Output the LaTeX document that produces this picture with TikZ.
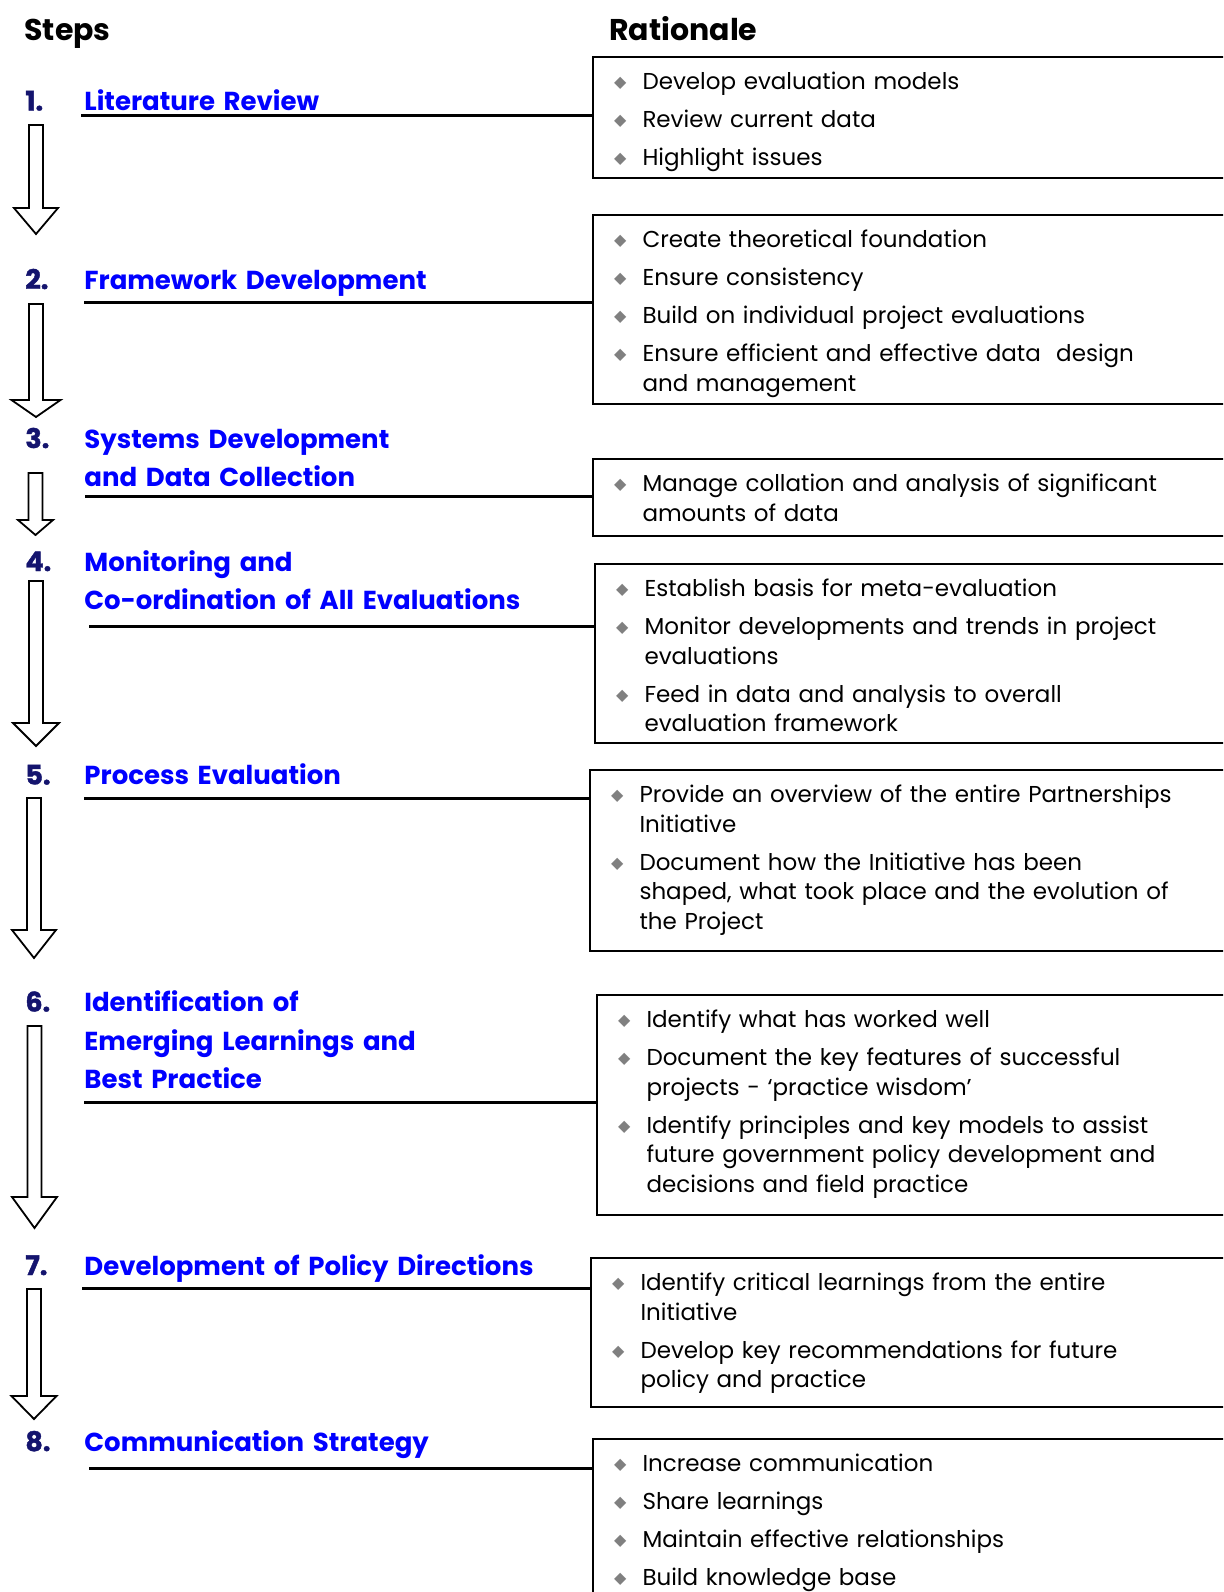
\documentclass[tikz,border=0pt]{standalone}
\usepackage{fontspec}
\setmainfont{Poppins}
\newfontfamily\numfont{Poppins}[FakeBold=1.5]
\newfontfamily\symfont{DejaVu Sans}
\usepackage{xcolor}

\definecolor{titleblue}{RGB}{0,0,255}
\definecolor{numnavy}{RGB}{20,20,110}
\definecolor{bulletgray}{RGB}{128,128,128}

\newcommand\rbullet{\makebox[13.75pt][l]{\hspace{-0.4pt}\raisebox{1pt}{\textcolor{bulletgray}{\symfont\fontsize{8pt}{8pt}\selectfont ◆}}}}
\newcommand\ritem[1]{\hangindent=13.75pt\hangafter=1\rbullet#1\par}

\tikzset{
  head/.style={anchor=base west, inner sep=0pt, font=\fontsize{15pt}{18pt}\selectfont\bfseries},
  num/.style={anchor=base west, inner sep=0pt, text=numnavy, font=\numfont\fontsize{13.5pt}{14pt}\selectfont\bfseries},
  stitle/.style={anchor=base west, inner sep=0pt, text=titleblue, text width=270pt, align=left,
    font=\fontsize{13pt}{19.25pt}\selectfont\bfseries},
  rbox/.style={draw, line width=1pt, anchor=north west, inner xsep=11pt, inner ysep=0pt,
    text width=310pt, align=left, text height=16.25pt,
    font=\fontsize{11.5pt}{14.75pt}\selectfont\setlength{\parskip}{4.25pt}},
  uline/.style={line width=1.5pt},
  flow/.style={line width=0.9pt, line join=miter}
}

\begin{document}
\begin{tikzpicture}[x=0.5pt, y=-0.5pt]
\useasboundingbox (0,0) rectangle (1223,1592);
\clip (0,0) rectangle (1223,1592);

\node[head] (steps) at (24,40) {Steps};
\node[head] (rat) at (609,40.6) {Rationale};

% step numbers and titles
\node[num] (n1) at (25,110.5) {1.};
\node[stitle] (s1) at (84,110.5) {Literature Review};
\node[num] (n2) at (25,289) {2.};
\node[stitle] (s2) at (84,289) {Framework Development};
\node[num] (n3) at (25,448) {3.};
\node[stitle] (s3) at (84,448) {Systems Development\\and Data Collection};
\node[num] (n4) at (25,571) {4.};
\node[stitle] (s4) at (84,571) {Monitoring and\\Co-ordination of All Evaluations};
\node[num] (n5) at (25,784.5) {5.};
\node[stitle] (s5) at (84,784.5) {Process Evaluation};
\node[num] (n6) at (25,1011.5) {6.};
\node[stitle] (s6) at (84,1011.5) {Identification of\\Emerging Learnings and\\Best Practice};
\node[num] (n7) at (25,1275) {7.};
\node[stitle] (s7) at (84,1275) {Development of Policy Directions};
\node[num] (n8) at (25,1451) {8.};
\node[stitle] (s8) at (84,1451) {Communication Strategy};

% rationale boxes
\node[rbox, text depth=44.25pt] (r1) at (592,56) {%
  \ritem{Develop evaluation models}
  \ritem{Review current data}
  \ritem{Highlight issues}};
\node[rbox, text depth=78.25pt] (r2) at (592,214) {%
  \ritem{Create theoretical foundation}
  \ritem{Ensure consistency}
  \ritem{Build on individual project evaluations}
  \ritem{Ensure efficient and effective data \ design\newline and management}};
\node[rbox, text depth=22.25pt] (r3) at (592,458) {%
  \ritem{Manage collation and analysis of significant\newline amounts of data}};
\node[rbox, text depth=73.25pt] (r4) at (594,563) {%
  \ritem{Establish basis for meta-evaluation}
  \ritem{Monitor developments and trends in project\newline evaluations}
  \ritem{Feed in data and analysis to overall\newline evaluation framework}};
\node[rbox, text depth=74.25pt] (r5) at (589,769) {%
  \ritem{Provide an overview of the entire Partnerships\newline Initiative}
  \ritem{Document how the Initiative has been\newline shaped, what took place and the evolution of\newline the Project}};
\node[rbox, text depth=93.75pt] (r6) at (596,994) {%
  \ritem{Identify what has worked well}
  \ritem{Document the key features of successful\newline projects - ‘practice wisdom’}
  \ritem{Identify principles and key models to assist\newline future government policy development and\newline decisions and field practice}};
\node[rbox, text depth=58.25pt] (r7) at (590,1257) {%
  \ritem{Identify critical learnings from the entire\newline Initiative}
  \ritem{Develop key recommendations for future\newline policy and practice}};
\node[rbox, text depth=83.75pt] (r8) at (592,1438) {%
  \ritem{Increase communication}
  \ritem{Share learnings}
  \ritem{Maintain effective relationships}
  \ritem{Build knowledge base}};

% underlines running into the boxes
\coordinate (u1) at (81,115);
\coordinate (u2) at (84,302.5);
\coordinate (u3) at (85,496.5);
\coordinate (u4) at (89,626.5);
\coordinate (u5) at (84,798);
\coordinate (u6) at (84,1102.5);
\coordinate (u7) at (82,1288.5);
\coordinate (u8) at (89,1468);
\foreach \i in {1,...,8}
  \draw[uline] (u\i) -- (u\i -| r\i.west);

% block arrows between steps
\foreach \cx/\ya/\yb/\yc/\hw in {36/125/208/234/22, 36/304/400/417/24.5, 35.5/473/520/535/17.5,
    36/581/723/746/23, 34/798/930/958/22, 34.5/1026/1197/1228/22.5, 34/1289/1396/1419/22.5}
  \draw[flow] (\cx-7,\ya) -- (\cx+7,\ya) -- (\cx+7,\yb) -- (\cx+\hw,\yb) -- (\cx,\yc)
    -- (\cx-\hw,\yb) -- (\cx-7,\yb) -- cycle;

\end{tikzpicture}
\end{document}
